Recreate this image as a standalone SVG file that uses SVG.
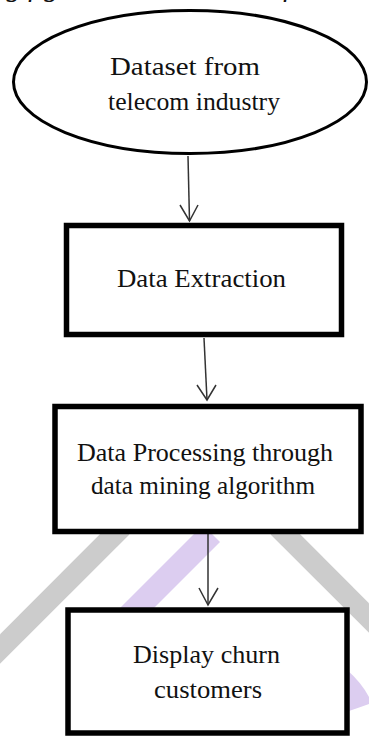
<svg xmlns="http://www.w3.org/2000/svg" width="369" height="736" viewBox="0 0 369 736">
  <style>
    .node { fill: #ffffff; stroke: #000000; }
    .box { stroke-width: 5.5; }
    .ell { stroke-width: 3; }
    .lbl { font-family: "Liberation Serif", "Times New Roman", serif; font-size: 25px; fill: #111111; text-anchor: start; }
    .cap { font-family: "Liberation Serif", "Times New Roman", serif; font-size: 29px; font-style: italic; fill: #111111; }
    .edge { stroke: #333333; stroke-width: 1.5; fill: none; }
    .band { fill: none; stroke-linecap: butt; }
  </style>
  <rect x="0" y="0" width="369" height="736" fill="#ffffff"/>
  <text class="cap" x="-8" y="-4">ng figures show the data flow diagram</text>

  <g id="watermark">
    <line class="band" x1="122" y1="527" x2="-20" y2="669" stroke="#cccccc" stroke-width="21"/>
    <line class="band" x1="278" y1="527" x2="420" y2="669" stroke="#cccccc" stroke-width="21"/>
    <line class="band" x1="211.5" y1="533.5" x2="100" y2="645" stroke="#dccdf0" stroke-width="24"/>
    <path d="M346,669 Q361,682 369,697 L369,704 Q358,708 346,712 Z" fill="#dccdf0"/>
  </g>

  <g id="connectors">
    <path class="edge" d="M188,156 L189.5,221"/>
    <path class="edge" d="M180,205 L189.5,221 L198,205"/>
    <path class="edge" d="M204,338 L207,400"/>
    <path class="edge" d="M197,385 L207,400 L216,385"/>
    <path class="edge" d="M208,534 L208,605"/>
    <path class="edge" d="M199,588 L208,605 L218,588"/>
  </g>

  <g id="node-dataset">
    <ellipse class="node ell" cx="190" cy="82" rx="176.5" ry="71.5"/>
    <text class="lbl" x="110" y="75" textLength="150" lengthAdjust="spacingAndGlyphs">Dataset from</text>
    <text class="lbl" x="108" y="110" textLength="172" lengthAdjust="spacingAndGlyphs">telecom industry</text>
  </g>

  <g id="node-extraction">
    <rect class="node box" x="66.5" y="225.5" width="275" height="109"/>
    <text class="lbl" x="117" y="287" textLength="169" lengthAdjust="spacingAndGlyphs">Data Extraction</text>
  </g>

  <g id="node-processing">
    <rect class="node box" x="55" y="406.5" width="306" height="125"/>
    <text class="lbl" x="77" y="461" textLength="256" lengthAdjust="spacingAndGlyphs">Data Processing through</text>
    <text class="lbl" x="91" y="494" textLength="224" lengthAdjust="spacingAndGlyphs">data mining algorithm</text>
  </g>

  <g id="node-display">
    <rect class="node box" x="68" y="610" width="279" height="123"/>
    <text class="lbl" x="133" y="663" textLength="147" lengthAdjust="spacingAndGlyphs">Display churn</text>
    <text class="lbl" x="154" y="698" textLength="108" lengthAdjust="spacingAndGlyphs">customers</text>
  </g>
</svg>
